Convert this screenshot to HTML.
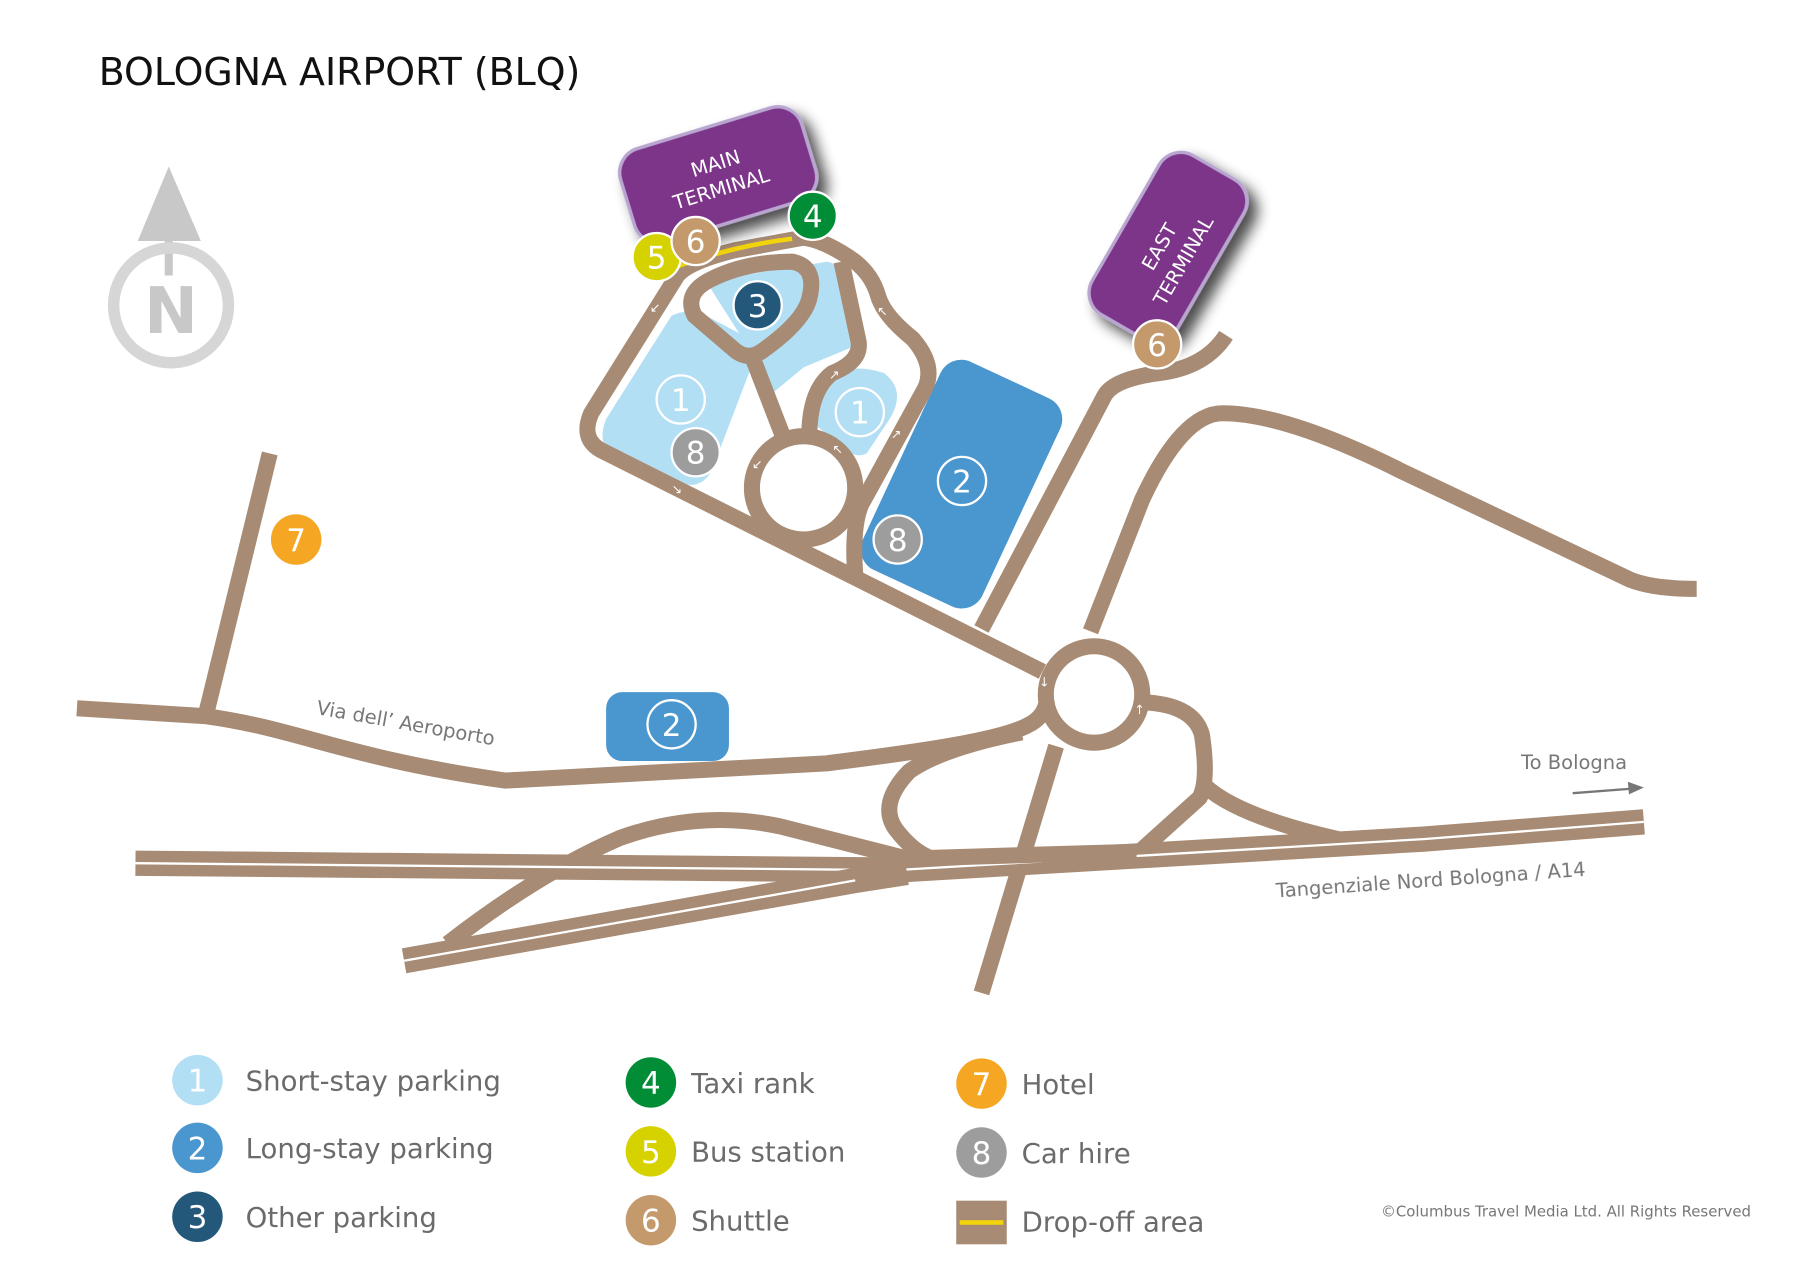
<!DOCTYPE html>
<html><head><meta charset="utf-8"><style>
html,body{margin:0;padding:0;background:#fff;}
svg{display:block;}
text{font-family:"DejaVu Sans","Liberation Sans",sans-serif;}
</style></head><body>
<svg width="1800" height="1273" viewBox="0 0 1568 1109" preserveAspectRatio="none" xmlns="http://www.w3.org/2000/svg">
<defs>
<filter id="sh" x="-30%" y="-30%" width="160%" height="160%"><feGaussianBlur in="SourceAlpha" stdDeviation="6"/><feOffset dx="8" dy="8"/><feComponentTransfer><feFuncA type="linear" slope="0.7"/></feComponentTransfer><feMerge><feMergeNode/><feMergeNode in="SourceGraphic"/></feMerge></filter>
</defs>
<rect width="1568" height="1109" fill="#fff"/>
<text x="86" y="74" font-size="33" fill="#111">BOLOGNA AIRPORT (BLQ)</text>

<!-- North arrow -->
<g fill="#c8c8c8" stroke="#c8c8c8">
<polygon points="147,145 120,210 175,210" stroke="none"/>
<line x1="147" y1="200" x2="147" y2="240" stroke-width="7"/>
<circle cx="149" cy="266" r="50" fill="none" stroke="#d6d6d6" stroke-width="10"/>
</g>
<text x="149" y="290" font-size="56" font-weight="bold" fill="#c8c8c8" text-anchor="middle">N</text>

<!-- parking areas -->
<g fill="#b3dff5">
<path d="M528,365 L585,275 Q600,268 615,275 L662,300 L620,410 Q610,428 590,420 L540,400 Q518,390 528,365 Z"/>
<path d="M615,245 L720,228 Q735,230 740,250 L748,300 L700,320 L670,345 L650,300 Z"/>
<path d="M720,330 Q740,315 770,325 Q790,340 775,365 L755,395 Q745,400 735,390 L710,370 Z"/>
<rect x="780" y="322" width="115" height="200" rx="20" fill="#4a96cf" transform="rotate(25 838 422)"/>
<rect x="528" y="603" width="107" height="60" rx="14" fill="#4a96cf"/>
</g>

<!-- roads -->
<g fill="none" stroke="#a78b74" stroke-width="14" stroke-linecap="butt" stroke-linejoin="round">
<path d="M67,617 L180,624 C260,635 300,660 440,680 L720,665 C800,655 870,645 895,632 Q910,625 912,610"/>
<path d="M235,395 L180,620"/>
<path d="M908,585 L525,393 Q505,383 515,360 L590,240 Q600,228 640,218 L700,207 Q720,210 745,228 Q760,240 765,258 Q770,275 795,295 Q815,318 806,338 L750,440 Q742,460 745,500"/>
<path d="M733,228 L748,298 Q750,315 725,325 Q705,340 705,380"/>
<path d="M605,275 Q595,255 620,243 Q650,228 690,228 Q712,232 705,260 Q700,280 665,305 Q652,315 640,305 Z"/>
<path d="M655,310 L682,380"/>
<circle cx="700" cy="425" r="45"/>
<circle cx="953" cy="605" r="42"/>
<path d="M1068,292 Q1050,320 1010,325 Q970,330 962,345 L855,548"/>
<path d="M950,550 L995,435 Q1030,360 1065,360 Q1120,360 1220,410 L1420,505 Q1440,513 1478,513"/>
<path d="M1000,612 Q1040,615 1047,640 Q1053,680 1045,695 L995,740"/>
<path d="M1050,685 Q1080,712 1170,732"/>
<path d="M920,650 L855,865"/>
<path d="M890,638 Q820,652 792,672 Q765,700 780,722 Q795,742 812,748"/>
<path d="M390,822 Q470,760 540,730 Q610,705 680,720 L790,748"/>
</g>
<g fill="none" stroke-linejoin="round">
<path d="M118,752 L780,758 L1240,731 L1432,716" stroke="#a78b74" stroke-width="22"/>
<path d="M118,752 L780,758 L1240,731 L1432,716" stroke="#fff" stroke-width="2"/>
<path d="M352,837 L745,767 L790,760" stroke="#a78b74" stroke-width="22"/>
<path d="M352,837 L745,767" stroke="#fff" stroke-width="2"/>
<path d="M790,748 L990,742" stroke="#a78b74" stroke-width="14"/>
<path d="M590,232 Q640,214 690,208" stroke="#f2d40a" stroke-width="4"/>
</g>
<!-- small arrows -->
<g fill="#fff" font-size="11">
<text x="566" y="272">↙</text><text x="585" y="430">↘</text><text x="655" y="408">↙</text>
<text x="722" y="330">↗</text><text x="764" y="275">↖</text><text x="776" y="382">↗</text>
<text x="725" y="395">↖</text><text x="905" y="598">↓</text><text x="988" y="622">↑</text>
</g>

<!-- terminals -->
<g filter="url(#sh)">
<rect x="543" y="110" width="165" height="85" rx="22" fill="#7b3589" stroke="#b9a6d0" stroke-width="3" transform="rotate(-17 625 152)"/>
<rect x="937" y="173" width="160" height="85" rx="22" fill="#7b3589" stroke="#b9a6d0" stroke-width="3" transform="rotate(-60 1017 215)"/>
</g>
<g fill="#fff" font-size="17" text-anchor="middle">
<text transform="translate(625,148) rotate(-17)">MAIN</text>
<text transform="translate(630,170) rotate(-17)">TERMINAL</text>
<text transform="translate(1015,218) rotate(-60)">EAST</text>
<text transform="translate(1036,230) rotate(-60)">TERMINAL</text>
</g>

<!-- markers -->
<g font-size="27" fill="#fff" text-anchor="middle">
<g stroke="#fff" stroke-width="2">
<circle cx="572" cy="224" r="21" fill="#d6d200"/>
<circle cx="606" cy="210" r="21" fill="#c49a6c"/>
<circle cx="708" cy="188" r="21" fill="#008d36"/>
<circle cx="660" cy="266" r="21" fill="#24587b"/>
<circle cx="593" cy="348" r="21" fill="#b3dff5"/>
<circle cx="606" cy="394" r="21" fill="#9d9d9d"/>
<circle cx="749" cy="359" r="21" fill="#b3dff5"/>
<circle cx="838" cy="419" r="21" fill="#4a96cf"/>
<circle cx="782" cy="470" r="21" fill="#9d9d9d"/>
<circle cx="1008" cy="300" r="21" fill="#c49a6c"/>
<circle cx="585" cy="631" r="21" fill="#4a96cf"/>
</g>
<circle cx="258" cy="470" r="22" fill="#f5a623"/>
<text x="572" y="234">5</text><text x="606" y="220">6</text><text x="708" y="198">4</text>
<text x="660" y="276">3</text><text x="593" y="358">1</text><text x="606" y="404">8</text>
<text x="749" y="369">1</text><text x="838" y="429">2</text><text x="782" y="480">8</text>
<text x="1008" y="310">6</text><text x="585" y="641">2</text><text x="258" y="480">7</text>
</g>

<!-- road labels -->
<text transform="translate(275,622) rotate(10)" font-size="17" fill="#777">Via dell’ Aeroporto</text>
<text x="1325" y="670" font-size="17" fill="#777">To Bologna</text>
<line x1="1370" y1="691" x2="1422" y2="687" stroke="#777" stroke-width="2"/>
<polygon points="1432,686 1418,681 1419,692" fill="#777"/>
<text transform="translate(1112,782) rotate(-4)" font-size="17" fill="#777">Tangenziale Nord Bologna / A14</text>

<!-- legend -->
<g font-size="27" fill="#fff" text-anchor="middle">
<circle cx="172" cy="941" r="22" fill="#b3dff5"/><text x="172" y="951">1</text>
<circle cx="172" cy="1000" r="22" fill="#4a96cf"/><text x="172" y="1010">2</text>
<circle cx="172" cy="1060" r="22" fill="#24587b"/><text x="172" y="1070">3</text>
<circle cx="567" cy="943" r="22" fill="#008d36"/><text x="567" y="953">4</text>
<circle cx="567" cy="1003" r="22" fill="#d6d200"/><text x="567" y="1013">5</text>
<circle cx="567" cy="1063" r="22" fill="#c49a6c"/><text x="567" y="1073">6</text>
<circle cx="855" cy="944" r="22" fill="#f5a623"/><text x="855" y="954">7</text>
<circle cx="855" cy="1004" r="22" fill="#9d9d9d"/><text x="855" y="1014">8</text>
</g>
<rect x="833" y="1046" width="44" height="38" fill="#a78b74"/>
<rect x="836" y="1063" width="38" height="4" fill="#f2d40a"/>
<g font-size="24" fill="#6b6b6b">
<text x="214" y="950">Short-stay parking</text>
<text x="214" y="1009">Long-stay parking</text>
<text x="214" y="1069">Other parking</text>
<text x="602" y="952">Taxi rank</text>
<text x="602" y="1012">Bus station</text>
<text x="602" y="1072">Shuttle</text>
<text x="890" y="953">Hotel</text>
<text x="890" y="1013">Car hire</text>
<text x="890" y="1073">Drop-off area</text>
</g>
<text x="1203" y="1060" font-size="13" fill="#777">©Columbus Travel Media Ltd. All Rights Reserved</text>
</svg>
</body></html>
